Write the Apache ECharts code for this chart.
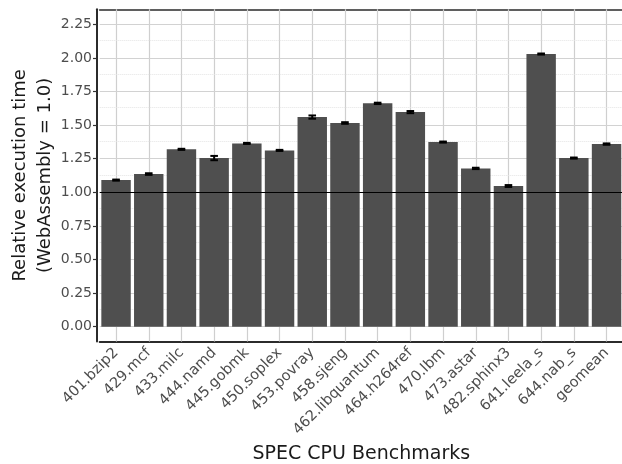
<!DOCTYPE html>
<html><head><meta charset="utf-8">
<script src="https://cdn.jsdelivr.net/npm/echarts@6/dist/echarts.min.js"></script>
<style>html,body{margin:0;padding:0;background:#fff}#c{width:622px;height:464px}</style>
</head><body><div id="c"></div>
<script>
const categories = ['401.bzip2','429.mcf','433.milc','444.namd','445.gobmk','450.soplex','453.povray','458.sjeng','462.libquantum','464.h264ref','470.lbm','473.astar','482.sphinx3','641.leela_s','644.nab_s','geomean'];
const values = [1.091, 1.136, 1.320, 1.255, 1.364, 1.312, 1.560, 1.516, 1.662, 1.597, 1.374, 1.178, 1.047, 2.029, 1.255, 1.359];
const errors = [0.004, 0.006, 0.004, 0.016, 0.004, 0.004, 0.012, 0.006, 0.005, 0.008, 0.004, 0.005, 0.007, 0.004, 0.004, 0.005];
const yTicks = [0, 0.25, 0.5, 0.75, 1.0, 1.25, 1.5, 1.75, 2.0, 2.25];
const yMinorTicks = [0.125, 0.375, 0.625, 0.875, 1.125, 1.375, 1.625, 1.875, 2.125];
const referenceValue = 1.0;
const yTitle = 'Relative execution time\n(WebAssembly = 1.0)';
const xTitle = 'SPEC CPU Benchmarks';

const chart = echarts.init(document.getElementById('c'), null, {renderer: 'canvas'});
const gridLines = []
  .concat(categories.map(c => ({xAxis: c, lineStyle: {color: '#cfcfcf', width: 1.2, type: 'solid'}})))
  .concat(yTicks.map(v => ({yAxis: v, lineStyle: {color: '#d2d2d2', width: 1.2, type: 'solid'}})))
  .concat(yMinorTicks.map(v => ({yAxis: v, lineStyle: {color: '#e4e4e4', width: 1, type: 'dotted'}})));

chart.setOption({
  animation: false,
  backgroundColor: '#ffffff',
  grid: {left: 99.7, top: 9.3, width: 523.2, height: 332.2, containLabel: false, outerBoundsMode: 'none'},
  xAxis: [{
    type: 'category', data: categories, boundaryGap: true,
    axisLine: {onZero: false, lineStyle: {color: '#2b2b2b', width: 2}},
    axisTick: {alignWithLabel: true, inside: true, length: 7, lineStyle: {color: '#333', width: 1.2}},
    axisLabel: {rotate: 45, interval: 0, margin: 9, fontFamily: 'DejaVu Sans', fontSize: 14.6, color: '#4d4d4d'},
    splitLine: {show: false},
    name: xTitle, nameLocation: 'middle', nameGap: 103, nameMoveOverlap: false,
    nameTextStyle: {fontFamily: 'DejaVu Sans', fontSize: 19, color: '#1a1a1a'}
  }, {
    type: 'category', data: categories, position: 'top',
    axisLine: {onZero: false, lineStyle: {color: '#2b2b2b', width: 1.6}},
    axisTick: {show: false}, axisLabel: {show: false}, splitLine: {show: false}
  }],
  yAxis: [{
    type: 'value', min: -0.11, max: 2.362, offset: 2.7,
    axisLine: {show: true, lineStyle: {color: '#2b2b2b', width: 2}},
    axisTick: {show: true, customValues: yTicks, length: 4, lineStyle: {color: '#333', width: 1.2}},
    axisLabel: {customValues: yTicks, formatter: v => v.toFixed(2), margin: 5, fontFamily: 'DejaVu Sans', fontSize: 14, color: '#4d4d4d'},
    splitLine: {show: false},
    name: yTitle, nameLocation: 'middle', nameGap: 39, nameMoveOverlap: false,
    nameTextStyle: {fontFamily: 'DejaVu Sans', fontSize: 18, color: '#1a1a1a', lineHeight: 25}
  }],
  series: [{
    type: 'bar', data: values, barWidth: '90%', z: 2,
    itemStyle: {color: '#4f4f4f'},
    markLine: {silent: true, z: 1, symbol: ['none', 'none'], label: {show: false}, data: gridLines}
  }, {
    type: 'custom', z: 3,
    data: categories.map((c, i) => [i, values[i], errors[i]]),
    encode: {x: 0, y: [1, 2]},
    renderItem: function (params, api) {
      const m = api.value(1), e = api.value(2);
      const hi = api.coord([api.value(0), m + e]);
      const lo = api.coord([api.value(0), m - e]);
      const half = 3.8;
      const st = {stroke: '#000', lineWidth: 2};
      return {type: 'group', children: [
        {type: 'line', shape: {x1: hi[0], y1: hi[1], x2: lo[0], y2: lo[1]}, style: st},
        {type: 'line', shape: {x1: hi[0] - half, y1: hi[1], x2: hi[0] + half, y2: hi[1]}, style: st},
        {type: 'line', shape: {x1: lo[0] - half, y1: lo[1], x2: lo[0] + half, y2: lo[1]}, style: st}
      ]};
    },
    markLine: {silent: true, z: 5, symbol: ['none', 'none'], label: {show: false},
      lineStyle: {color: '#000', width: 1.2, type: 'solid'}, data: [{yAxis: referenceValue}]}
  }]
});
</script></body></html>
